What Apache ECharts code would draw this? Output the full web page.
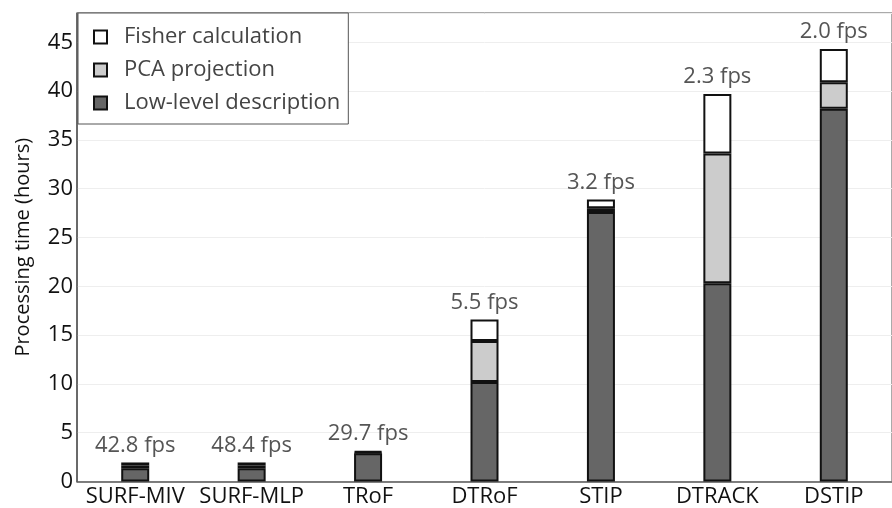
<!DOCTYPE html>
<html>
<head>
<meta charset="utf-8">
<style>
html,body{margin:0;padding:0;background:#fff;}
#chart{width:892px;height:508px;}
</style>
<script src="https://cdn.jsdelivr.net/npm/echarts@6/dist/echarts.min.js"></script>
</head>
<body>
<div id="chart"></div>
<script>
const categories = ['SURF-MIV', 'SURF-MLP', 'TRoF', 'DTRoF', 'STIP', 'DTRACK', 'DSTIP'];
const lowLevel = [1.35, 1.35, 2.9, 10.2, 27.6, 20.3, 38.2];
const pcaProjection = [0.3, 0.3, 0.1, 4.2, 0.4, 13.3, 2.7];
const fisherCalc = [0.3, 0.3, 0.1, 2.2, 0.9, 6.1, 3.4];
const fpsLabels = ['42.8 fps', '48.4 fps', '29.7 fps', '5.5 fps', '3.2 fps', '2.3 fps', '2.0 fps'];
const yTicks = [0, 5, 10, 15, 20, 25, 30, 35, 40, 45];

const FONT = '"Open Sans", "Noto Sans", sans-serif';
const chart = echarts.init(document.getElementById('chart'), null, {renderer: 'canvas'});

function barSeries(name, data, color, withLabel) {
  const s = {
    name: name,
    type: 'bar',
    stack: 'total',
    data: data,
    barWidth: 28,
    itemStyle: {color: color, borderColor: '#111', borderWidth: 2},
    emphasis: {disabled: true}
  };
  if (withLabel) {
    s.label = {
      show: true,
      position: 'top',
      distance: 6,
      fontFamily: FONT,
      fontSize: 22,
      color: '#555',
      formatter: p => fpsLabels[p.dataIndex]
    };
  }
  return s;
}

chart.setOption({
  animation: false,
  backgroundColor: '#fff',
  grid: {
    left: 77, right: -9, top: 13, bottom: 26.5,
    show: true, borderColor: '#555', borderWidth: 1, backgroundColor: 'transparent'
  },
  legend: {
    data: ['Fisher calculation', 'PCA projection', 'Low-level description'],
    orient: 'vertical',
    left: 78, top: 13,
    width: 270,
    padding: [12, 8, 9, 15],
    itemGap: 9,
    itemWidth: 13, itemHeight: 13,
    borderColor: '#555', borderWidth: 1,
    backgroundColor: '#fff',
    icon: 'rect',
    itemStyle: {borderColor: '#111', borderWidth: 2},
    textStyle: {fontFamily: FONT, fontSize: 22, color: '#444', lineHeight: 24, padding: [0, 0, 0, 12]}
  },
  xAxis: {
    type: 'category',
    data: categories,
    axisLine: {show: true, lineStyle: {color: '#555', width: 1.5}},
    axisTick: {show: false},
    axisLabel: {fontFamily: FONT, fontSize: 22, color: '#111', margin: 4, interval: 0},
    splitLine: {show: false}
  },
  yAxis: {
    type: 'value',
    min: 0, max: 48, interval: 5,
    name: 'Processing time (hours)',
    nameLocation: 'middle',
    nameGap: 44,
    nameTextStyle: {fontFamily: FONT, fontSize: 20, color: '#111'},
    axisLine: {show: true, lineStyle: {color: '#555', width: 1.5}},
    axisTick: {show: false},
    axisLabel: {
      fontFamily: FONT, fontSize: 22, color: '#111', margin: 4,
      formatter: v => (yTicks.indexOf(v) >= 0 ? String(v) : '')
    },
    splitLine: {show: true, lineStyle: {color: '#eeeeee', width: 1}}
  },
  series: [
    barSeries('Low-level description', lowLevel, '#666666', false),
    barSeries('PCA projection', pcaProjection, '#cccccc', false),
    barSeries('Fisher calculation', fisherCalc, '#ffffff', true)
  ]
});
</script>
</body>
</html>
